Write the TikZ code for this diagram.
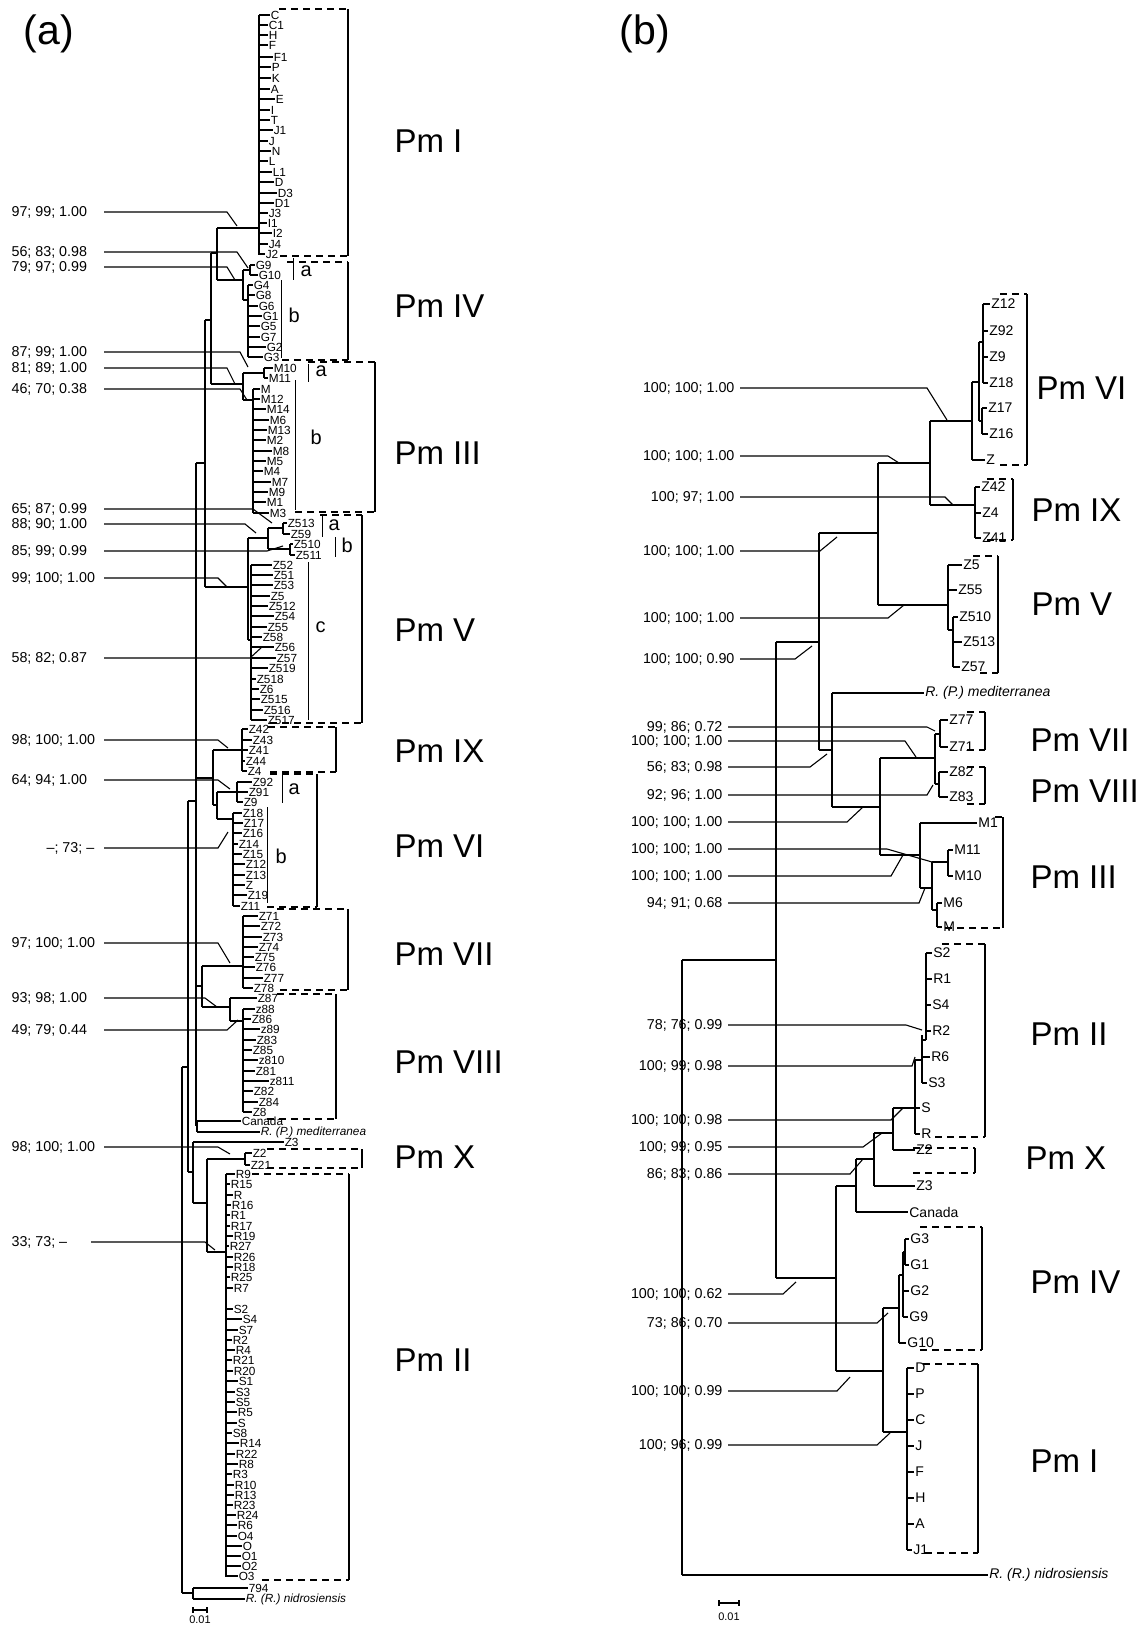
\documentclass[tikz,border=0pt]{standalone}
\usepackage{fontspec}
\setmainfont{Liberation Sans}
\newcommand\lva[2]{\foreach \y/\x/\t in {#2}{\node[lfa] (a\t) at (\x,\y) {\t}; \draw (#1,\y) -- (a\t.west);}}
\newcommand\lvb[2]{\foreach \y/\x/\t in {#2}{\node[lfb] (b\t) at (\x,\y) {\t}; \draw (#1,\y) -- (b\t.west);}}
\newcommand\clbox[5]{\draw[dsh] (#1,#2)--(#3,#2); \draw (#3,#2)--(#3,#4); \draw[dsh] (#5,#4)--(#3,#4);}
\newcommand\supA[6]{\node[supa] (#1) at (11,#3) {#2}; \draw (104,#3) -- (#4,#3) -- (#5,#6);}
\newcommand\supB[7]{\node[supb] (#1) at (#7,#3) {#2}; \draw ([xshift=5pt]#1.east) -- (#4,#3) -- (#5,#6);}
\begin{document}
\begin{tikzpicture}[x=1pt,y=-1pt,line width=1.1pt,
  lfa/.style={font=\fontsize{11.8}{12}\selectfont,inner sep=0.2pt,anchor=west},
  lfb/.style={font=\fontsize{14}{14}\selectfont,inner sep=0.8pt,anchor=west},
  supa/.style={font=\fontsize{14.3}{14.3}\selectfont,inner sep=0pt,anchor=west},
  supb/.style={font=\fontsize{14.3}{14.3}\selectfont,inner sep=0pt,anchor=east},
  pm/.style={font=\fontsize{33}{33}\selectfont,inner sep=0pt,anchor=west},
  panel/.style={font=\fontsize{41}{41}\selectfont,inner sep=0pt},
  subl/.style={font=\fontsize{20}{20}\selectfont,inner sep=0pt,anchor=west},
  dsh/.style={dash pattern=on 7pt off 5pt},
  thinl/.style={line width=0.9pt},
  thick spine/.style={line width=1.6pt},
  scl/.style={font=\fontsize{11}{11}\selectfont,inner sep=0pt}]
\useasboundingbox (0,0) rectangle (1144,1625);
\fill[white] (0,0) rectangle (1144,1625);
% ================= panel (a) =================
\node[panel] (pa) at (49,34) {(a)};
% Pm I
\draw[thick spine] (259,15)--(259,255);
\lva{259}{15/270/C,25/268/C1,35/268/H,45/268/F,57/273/F1,67/271/P,78/271/K,89/270/A,99/275/E,110/270/I,120/270/T,130/273/J1,141/268/J,151/271/N,161/268/L,172/272/L1,182/274/D,193/277/D3,203/274/D1,213/268/J3,223/267/I1,233/272/I2,244/268/J4,254/265/J2}
\draw (217,228)--(259,228);
\draw (217,228)--(217,280);
% Pm IV
\draw (250,265)--(250,275);
\lva{250}{265/255/G9,275/258/G10}
\draw[thick spine] (248,285)--(248,357);
\lva{248}{285/253/G4,295/255/G8,306/258/G6,316/262/G1,326/260/G5,337/260/G7,347/266/G2,357/263/G3}
\draw (243,270)--(243,300); \draw (243,270)--(250,270); \draw (243,300)--(248,300);
\draw (217,280)--(243,280);
% Pm III
\draw (264,368)--(264,378);
\lva{264}{368/273/M10,378/268/M11}
\draw[thick spine] (253,389)--(253,513);
\lva{253}{389/260/M,399/260/M12,409/266/M14,420/269/M6,430/267/M13,440/266/M2,451/272/M8,461/266/M5,471/263/M4,482/271/M7,492/268/M9,502/266/M1,513/269/M3}
\draw (243,373)--(243,400); \draw (243,373)--(264,373); \draw (243,400)--(253,400);
\draw (211,253)--(211,384); \draw (211,253)--(217,253); \draw (211,384)--(243,384);
\draw (205,320)--(205,587); \draw (205,320)--(211,320);
% Pm V
\draw (283,523)--(283,534);
\lva{283}{523/287/Z513,534/290/Z59}
\draw (290,544)--(290,555);
\lva{290}{544/293/Z510,555/295/Z511}
\draw (268,528)--(268,549); \draw (268,528)--(283,528); \draw (268,549)--(290,549);
\draw (248,538)--(248,640); \draw (248,538)--(268,538);
\draw[thick spine] (251,565)--(251,720);
\lva{251}{565/272/Z52,575/273/Z51,585/273/Z53,596/270/Z5,606/268/Z512,616/274/Z54,627/267/Z55,637/262/Z58,647/274/Z56,658/276/Z57,668/268/Z519,679/256/Z518,689/259/Z6,699/260/Z515,710/263/Z516,720/267/Z517}
\draw (248,640)--(251,640);
\draw (205,587)--(248,587);
\draw (196,463)--(196,1126); \draw (196,463)--(205,463);
% Pm IX
\draw[thick spine] (242,729)--(242,771);
\lva{242}{729/248/Z42,740/252/Z43,750/248/Z41,761/245/Z44,771/247/Z4}
\draw (213,750)--(242,750);
% Pm VI
\draw (237,782)--(237,802);
\lva{237}{782/252/Z92,792/248/Z91,802/243/Z9}
\draw[thick spine] (233,813)--(233,906);
\lva{233}{813/242/Z18,823/243/Z17,833/242/Z16,844/238/Z14,854/242/Z15,864/245/Z12,875/245/Z13,885/245/Z,895/247/Z19,906/240/Z11}
\draw (217,792)--(217,819); \draw (217,792)--(237,792); \draw (217,819)--(233,819);
\draw (213,750)--(213,805); \draw (213,805)--(217,805);
\draw (196,778)--(213,778);
% Pm VII
\draw[thick spine] (243,916)--(243,988);
\lva{243}{916/258/Z71,926/260/Z72,937/262/Z73,947/258/Z74,957/254/Z75,967/255/Z76,978/263/Z77,988/253/Z78}
\draw (202,966)--(243,966);
% Pm VIII
\draw (230,998)--(230,1021);
\lva{230}{998/257/Z87}
\draw[thick spine] (243,1009)--(243,1112);
\lva{243}{1009/255/z88,1019/251/Z86,1029/260/z89,1040/256/Z83,1050/252/Z85,1060/258/z810,1071/255/Z81,1081/269/z811,1091/253/Z82,1102/258/Z84,1112/252/Z8}
\draw (230,1021)--(243,1021);
\draw (202,1007)--(230,1007);
\draw (202,966)--(202,1007); \draw (196,986)--(202,986);
% Canada, mediterranea, Z3
\draw (197,1121)--(197,1132); \draw (196,1126)--(197,1126);
\lva{197}{1121/241/Canada}
\node[lfa,font=\fontsize{11.8}{12}\selectfont\itshape] (amed) at (260,1132) {R. (P.) mediterranea};
\draw (197,1132)--(amed.west);
\lva{193}{1142/284/Z3}
\draw (193,1142)--(193,1203);
% Pm X
\draw (245,1153)--(245,1165);
\lva{245}{1153/252/Z2,1165/250/Z21}
\draw (207,1159)--(245,1159);
\draw (207,1159)--(207,1252); \draw (193,1203)--(207,1203);
% Pm II
\draw[thick spine] (226,1174)--(226,1577);
\lva{226}{1174/235/R9,1184/230/R15,1195/233/R,1205/231/R16,1215/230/R1,1226/230/R17,1236/233/R19,1246/229/R27,1257/233/R26,1267/233/R18,1277/230/R25,1288/233/R7,1309/233/S2,1319/242/S4,1330/238/S7,1340/232/R2,1350/235/R4,1360/232/R21,1371/233/R20,1381/238/S1,1392/235/S3,1402/235/S5,1412/237/R5,1423/237/S,1433/232/S8,1443/239/R14,1454/235/R22,1464/238/R8,1474/232/R3,1485/234/R10,1495/234/R13,1505/233/R23,1515/236/R24,1525/237/R6,1536/237/O4,1546/242/O,1556/241/O1,1566/241/O2,1576/238/O3}
\draw (207,1252)--(226,1252);
\draw (188,801)--(188,1172); \draw (188,801)--(196,801); \draw (188,1172)--(193,1172);
% root and outgroup
\draw (182,1067)--(182,1593); \draw (182,1067)--(188,1067); \draw (182,1593)--(193,1593);
\draw (193,1588)--(193,1599);
\lva{193}{1588/248/794}
\node[lfa,font=\fontsize{11.8}{12}\selectfont\itshape] (anid) at (245,1599) {R. (R.) nidrosiensis};
\draw (193,1599)--(anid.west);
% scale bar (a)
\draw (193,1610)--(207,1610); \draw (193,1607)--(193,1613); \draw (207,1607)--(207,1613);
\node[scl] (sca) at (200,1620) {0.01};
% clade boxes (a)
\clbox{279}{9}{348}{256}{280}
\clbox{287}{262}{348}{360}{282}
\clbox{308}{362}{375}{512}{295}
\clbox{320}{515}{362}{723}{270}
\clbox{268}{727}{336}{772}{270}
\clbox{270}{774}{317}{907}{267}
\clbox{277}{909}{348}{990}{280}
\clbox{277}{994}{336}{1119}{267}
\clbox{267}{1149}{362}{1168}{267}
\clbox{252}{1174}{349}{1580}{262}
% sub brackets (a)
\draw[thinl] (293,258)--(293,280); \node[subl] (a4a) at (300,271) {a};
\draw[thinl] (281,280)--(281,358); \node[subl] (a4b) at (288,315) {b};
\draw[thinl] (308,364)--(308,382); \node[subl] (a3a) at (315,371) {a};
\draw[thinl] (295,380)--(295,510); \node[subl] (a3b) at (310,437) {b};
\draw[thinl] (322,515)--(322,537); \node[subl] (a5a) at (328,525) {a};
\draw[thinl] (335,537)--(335,557); \node[subl] (a5b) at (341,545) {b};
\draw[thinl] (308,562)--(308,720); \node[subl] (a5c) at (315,627) {c};
\draw[thinl] (282,775)--(282,803); \node[subl] (a6a) at (288,789) {a};
\draw[thinl] (267,807)--(267,903); \node[subl] (a6b) at (275,856) {b};
% Pm labels (a)
\node[pm] (pa1) at (394,141) {Pm I};
\node[pm] (pa4) at (394,306) {Pm IV};
\node[pm] (pa3) at (394,453) {Pm III};
\node[pm] (pa5) at (394,630) {Pm V};
\node[pm] (pa9) at (394,751) {Pm IX};
\node[pm] (pa6) at (394,846) {Pm VI};
\node[pm] (pa7) at (394,954) {Pm VII};
\node[pm] (pa8) at (394,1062) {Pm VIII};
\node[pm] (pa10) at (394,1157) {Pm X};
\node[pm] (pa2) at (394,1360) {Pm II};
% support values (a)
\supA{sa1}{97; 99; 1.00}{212}{227}{237}{226}
\supA{sa2}{56; 83; 0.98}{252}{237}{248}{268}
\supA{sa3}{79; 97; 0.99}{267}{227}{235}{280}
\supA{sa4}{87; 99; 1.00}{352}{240}{248}{367}
\supA{sa5}{81; 89; 1.00}{368}{227}{235}{384}
\supA{sa6}{46; 70; 0.38}{389}{240}{247}{400}
\supA{sa7}{65; 87; 0.99}{509}{253}{272}{523}
\supA{sa8}{88; 90; 1.00}{524}{245}{256}{533}
\supA{sa9}{85; 99; 0.99}{551}{267}{283}{546}
\supA{sa10}{99; 100; 1.00}{578}{218}{227}{587}
\supA{sa11}{58; 82; 0.87}{658}{250}{262}{647}
\supA{sa12}{98; 100; 1.00}{740}{218}{228}{748}
\supA{sa13}{64; 94; 1.00}{780}{218}{230}{789}
\node[supa] (sa14) at (46,848) {–; 73; –};
\draw (104,848) -- (218,848) -- (228,832);
\supA{sa15}{97; 100; 1.00}{943}{218}{230}{963}
\supA{sa16}{93; 98; 1.00}{998}{205}{217}{1007}
\supA{sa17}{49; 79; 0.44}{1030}{227}{238}{1020}
\supA{sa18}{98; 100; 1.00}{1147}{218}{230}{1154}
\node[supa] (sa19) at (11,1242) {33; 73; –};
\draw (91,1242) -- (205,1242) -- (215,1250);
% ================= panel (b) =================
\node[panel] (pb) at (645,34) {(b)};
% Pm VI
\draw (983,304)--(983,383);
\lvb{983}{304/990/Z12,331/988/Z92,357/988/Z9,383/988/Z18}
\draw (982,408)--(982,434);
\lvb{982}{408/987/Z17,434/988/Z16}
\draw (979,342)--(979,421); \draw (979,342)--(983,342); \draw (979,421)--(982,421);
\draw (972,382)--(972,460); \draw (972,382)--(979,382);
\lvb{972}{460/985/Z}
\draw (930,421)--(972,421);
% Pm IX
\draw (975,487)--(975,538);
\lvb{975}{487/980/Z42,513/981/Z4,538/981/Z41}
\draw (930,505)--(975,505);
\draw (930,421)--(930,505); \draw (878,463)--(930,463);
% Pm V
\draw (948,565)--(948,630);
\lvb{948}{565/962/Z5,590/957/Z55}
\draw (948,630)--(953,630);
\draw (953,617)--(953,667);
\lvb{953}{617/958/Z510,642/962/Z513,667/960/Z57}
\draw (878,605)--(948,605);
\draw (878,463)--(878,605); \draw (819,533)--(878,533);
\draw (819,533)--(819,750); \draw (776,642)--(819,642);
\draw (776,642)--(776,1278); \draw (682,960)--(776,960);
% mediterranea
\draw (819,750)--(832,750); \draw (832,693)--(832,807);
\node[lfb,font=\fontsize{14}{14}\selectfont\itshape] (bmed) at (924,693) {R. (P.) mediterranea};
\draw (832,693)--(bmed.west);
% Pm VII / VIII
\draw (832,807)--(880,807); \draw (880,758)--(880,855);
\draw (880,758)--(935,758); \draw (935,734)--(935,784);
\draw (935,734)--(940,734); \draw (940,720)--(940,747);
\lvb{940}{720/948/Z77,747/948/Z71}
\draw (935,784)--(939,784); \draw (939,772)--(939,797);
\lvb{939}{772/948/Z82,797/948/Z83}
% Pm III
\draw (880,855)--(920,855); \draw (920,823)--(920,888);
\lvb{920}{823/977/M1}
\draw (920,888)--(932,888); \draw (932,862)--(932,910);
\draw (932,862)--(948,862); \draw (948,850)--(948,876);
\lvb{948}{850/953/M11,876/953/M10}
\draw (932,910)--(937,910); \draw (937,903)--(937,927);
\lvb{937}{903/942/M6,927/942/M}
% Pm II
\draw (926,953)--(926,1005); \draw[thick spine] (926,1005)--(926,1040);
\lvb{926}{953/932/S2,979/932/R1,1005/931/S4,1031/931/R2}
\draw[thick spine] (922,1035)--(922,1060); \draw (922,1060)--(922,1083); \draw (922,1040)--(926,1040);
\lvb{922}{1057/930/R6,1083/927/S3}
\draw (915,1060)--(915,1134); \draw (915,1060)--(922,1060);
\lvb{915}{1108/920/S,1134/920/R}
\draw (893,1108)--(893,1150); \draw (893,1108)--(915,1108);
\lvb{893}{1150/915/Z2}
\draw (874,1133)--(874,1186); \draw (874,1133)--(893,1133);
\lvb{874}{1186/915/Z3}
\draw (856,1159)--(856,1212); \draw (856,1159)--(874,1159);
\lvb{856}{1212/908/Canada}
\draw (836,1186)--(836,1371); \draw (836,1186)--(856,1186);
\draw (776,1278)--(836,1278);
\draw (836,1371)--(883,1371);
\draw (883,1308)--(883,1432);
% Pm IV
\draw (883,1308)--(899,1308); \draw (899,1275)--(899,1343);
\draw (899,1275)--(903,1275); \draw (903,1252)--(903,1317);
\lvb{903}{1291/909/G2,1317/908/G9}
\draw (903,1252)--(905,1252); \draw (905,1239)--(905,1265);
\lvb{905}{1239/909/G3,1265/909/G1}
\lvb{899}{1343/906/G10}
% Pm I
\draw (883,1432)--(907,1432); \draw (907,1368)--(907,1550);
\draw[thick spine] (907,1380)--(907,1485);
\lvb{907}{1368/914/D,1394/914/P,1420/914/C,1446/914/J,1472/914/F,1498/914/H,1524/914/A,1550/912/J1}
% root
\draw (682,960)--(682,1575);
\node[lfb,font=\fontsize{14}{14}\selectfont\itshape] (bnid) at (988,1575) {R. (R.) nidrosiensis};
\draw (682,1575)--(bnid.west);
% scale bar (b)
\draw (719,1603)--(739,1603); \draw (719,1600)--(719,1606); \draw (739,1600)--(739,1606);
\node[scl] (scb) at (729,1617) {0.01};
% clade boxes (b)
\clbox{1000}{294}{1027}{465}{1000}
\clbox{987}{479}{1013}{540}{987}
\clbox{973}{556}{998}{673}{980}
\clbox{967}{712}{985}{750}{967}
\clbox{967}{767}{985}{804}{967}
\clbox{995}{817}{1003}{928}{945}
\clbox{942}{944}{985}{1137}{935}
\clbox{913}{1148}{975}{1173}{913}
\clbox{920}{1227}{982}{1350}{920}
\clbox{923}{1364}{978}{1553}{925}
% Pm labels (b)
\node[pm] (pb6) at (1036,388) {Pm VI};
\node[pm] (pb9) at (1031,510) {Pm IX};
\node[pm] (pb5) at (1031,604) {Pm V};
\node[pm] (pb7) at (1030,740) {Pm VII};
\node[pm] (pb8) at (1030,791) {Pm VIII};
\node[pm] (pb3) at (1030,877) {Pm III};
\node[pm] (pb2) at (1030,1034) {Pm II};
\node[pm] (pb10) at (1025,1158) {Pm X};
\node[pm] (pb4) at (1030,1282) {Pm IV};
\node[pm] (pb1) at (1030,1461) {Pm I};
% support values (b)
\supB{sb1}{100; 100; 1.00}{388}{927}{947}{420}{735}
\supB{sb2}{100; 100; 1.00}{456}{888}{899}{463}{735}
\supB{sb3}{100; 97; 1.00}{497}{945}{953}{505}{735}
\supB{sb4}{100; 100; 1.00}{551}{820}{837}{537}{735}
\supB{sb5}{100; 100; 1.00}{618}{888}{904}{605}{735}
\supB{sb6}{100; 100; 0.90}{659}{795}{812}{646}{735}
\supB{sb7}{99; 86; 0.72}{727}{927}{935}{731}{723}
\supB{sb8}{100; 100; 1.00}{741}{905}{916}{757}{723}
\supB{sb9}{56; 83; 0.98}{767}{810}{827}{754}{723}
\supB{sb10}{92; 96; 1.00}{795}{927}{933}{785}{723}
\supB{sb11}{100; 100; 1.00}{822}{847}{863}{807}{723}
\supB{sb12}{100; 100; 1.00}{849}{887}{932}{862}{723}
\supB{sb13}{100; 100; 1.00}{876}{891}{903}{855}{723}
\supB{sb14}{94; 91; 0.68}{903}{919}{925}{888}{723}
\supB{sb15}{78; 76; 0.99}{1025}{906}{922}{1030}{723}
\supB{sb16}{100; 99; 0.98}{1066}{912}{915}{1057}{723}
\supB{sb17}{100; 100; 0.98}{1120}{891}{903}{1108}{723}
\supB{sb18}{100; 99; 0.95}{1147}{863}{882}{1133}{723}
\supB{sb19}{86; 83; 0.86}{1174}{850}{863}{1159}{723}
\supB{sb20}{100; 100; 0.62}{1294}{783}{796}{1282}{723}
\supB{sb21}{73; 86; 0.70}{1323}{877}{888}{1313}{723}
\supB{sb22}{100; 100; 0.99}{1391}{837}{850}{1377}{723}
\supB{sb23}{100; 96; 0.99}{1445}{877}{890}{1433}{723}
\end{tikzpicture}
\end{document}
